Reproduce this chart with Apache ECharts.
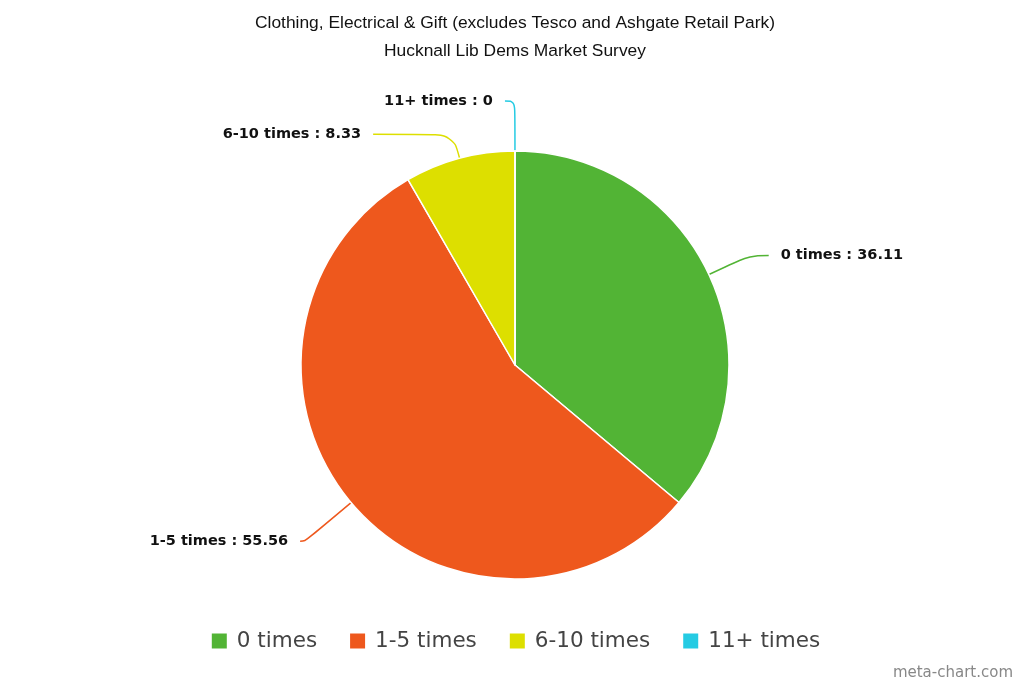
<!DOCTYPE html>
<html><head><meta charset="utf-8">
<script src="https://cdn.jsdelivr.net/npm/echarts@6/dist/echarts.min.js"></script>
<style>html,body{margin:0;padding:0;background:#fff}#c{width:1030px;height:687px}</style>
</head><body><div id="c"></div>
<script>
const categories = ['0 times', '1-5 times', '6-10 times', '11+ times'];
const values = [36.11, 55.56, 8.33, 0];
const colors = ['#52b435', '#ee581d', '#dddf00', '#25cbe3'];
const titleLines = ['Clothing, Electrical & Gift (excludes Tesco and Ashgate Retail Park)', 'Hucknall Lib Dems Market Survey'];

// leader-line styling per slice (kept separate from the data)
const leaderLengths = [[45, 19], [60, 5], [25, 80], [50, 10]];

const chart = echarts.init(document.getElementById('c'));
chart.setOption({
  animation: false,
  color: colors,
  title: [{
    text: titleLines.join('\n'),
    left: 'center', top: 4,
    textStyle: {fontFamily: 'Liberation Sans, Arial', fontSize: 17.4, fontWeight: 'normal', color: '#111', lineHeight: 28}
  }, {
    text: 'meta-chart.com', right: 12, bottom: 1,
    textStyle: {fontFamily: 'DejaVu Sans', fontSize: 15, fontWeight: 'normal', color: '#888'}
  }],
  legend: {
    bottom: 30, left: 'center',
    itemWidth: 17, itemHeight: 17, itemGap: 31,
    icon: 'rect',
    textStyle: {fontFamily: 'DejaVu Sans', fontSize: 21.5, color: '#444', padding: [0, 0, 0, 4]},
    data: categories
  },
  series: [{
    type: 'pie',
    center: [515, 365],
    radius: 214,
    startAngle: 90.01,
    clockwise: true,
    itemStyle: {borderColor: '#fff', borderWidth: 1.5},
    label: {
      formatter: '{b} : {c}',
      distanceToLabelLine: 12,
      fontFamily: 'DejaVu Sans', fontSize: 14.5, fontWeight: 'bold', color: '#111'
    },
    labelLine: {show: true, smooth: 0.4, lineStyle: {width: 1.5}},
    data: categories.map((n, i) => ({
      name: n, value: values[i],
      labelLine: {length: leaderLengths[i][0], length2: leaderLengths[i][1]}
    }))
  }]
});
</script></body></html>
